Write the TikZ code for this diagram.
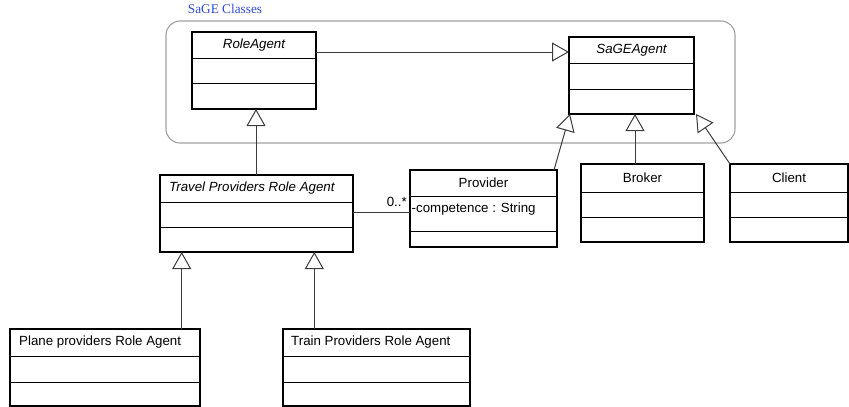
\documentclass[tikz,border=0pt]{standalone}
\usepackage{fontspec}
\setmainfont{Liberation Sans}
\newfontfamily\titleserif{Liberation Serif}
\usetikzlibrary{arrows.meta,calc}
\definecolor{lnk}{RGB}{60,60,60}
\definecolor{frm}{RGB}{160,160,160}
\definecolor{ttl}{RGB}{40,70,250}
\newcommand{\umlbox}[7]{%
  \node[cls, anchor=north west, minimum width={(#4-#2)*1pt}, minimum height={(#5-#3)*1pt}] (#1) at (#2,#3) {};
  \draw[div] (#2,#6) -- (#4,#6);
  \draw[div] (#2,#7) -- (#4,#7);}
\begin{document}
\begin{tikzpicture}[x=1pt,y=-1pt,
  cls/.style={draw=black, line width=1.2pt, inner sep=0pt, outer sep=0pt},
  div/.style={draw=black, line width=1pt},
  frame/.style={draw=frm, line width=1.1pt, rounded corners=14pt, inner sep=0pt, outer sep=0pt},
  lbl/.style={font=\fontsize{13.3}{15}\selectfont, inner sep=0pt},
  ilbl/.style={lbl, font=\fontsize{13.3}{15}\selectfont\itshape},
  gen/.style={draw=lnk, line width=1pt, -{Triangle[open, length=17pt, width=19pt]}},
  assoc/.style={draw=lnk, line width=1pt}]
\useasboundingbox (0,0) rectangle (849,407);
% container
\node[frame, anchor=north west, minimum width=569pt, minimum height=122pt] (frame) at (166,21) {};
\node[lbl, font=\titleserif\fontsize{13.3}{15}\selectfont, text=ttl] (title) at (225,9) {SaGE Classes};
% classes
\umlbox{ra}{192}{32}{316}{109}{58}{83}
\umlbox{sage}{569}{37}{694}{114}{63}{89}
\umlbox{trav}{160}{175}{353}{252}{202}{227}
\umlbox{prov}{410}{170}{557}{247}{196}{231}
\umlbox{brok}{581}{164}{704}{242}{192}{217}
\umlbox{cli}{730}{164}{848}{242}{192}{217}
\umlbox{plane}{10}{329}{200}{406}{356}{382}
\umlbox{train}{283}{329}{470}{406}{356}{382}
% texts
\node[ilbl] (raT) at (254,45) {RoleAgent};
\node[ilbl] (sageT) at (631.5,50) {SaGEAgent};
\node[ilbl, anchor=west] (travT) at (169,188.5) {Travel Providers Role Agent};
\node[lbl] (provT) at (483.5,183) {Provider};
\node[lbl, anchor=west] (provA) at (411.5,209.5) {-competence : String};
\node[lbl] (brokT) at (642.5,178) {Broker};
\node[lbl] (cliT) at (789,178) {Client};
\node[lbl, anchor=west] (planeT) at (19,342.5) {Plane providers Role Agent};
\node[lbl, anchor=west] (trainT) at (291,342.5) {Train Providers Role Agent};
\node[lbl, anchor=base east] (mult) at (407,206) {0..*};
% connectors
\coordinate (raOut) at ($(ra.north east)+(0,20)$);
\draw[gen] (raOut) -- (raOut -| sage.west);
\coordinate (travUp) at ($(trav.north west)+(96,0)$);
\draw[gen] (travUp) -- (travUp |- ra.south);
\coordinate (planeUp) at ($(plane.north west)+(171.7,0)$);
\draw[gen] (planeUp) -- (planeUp |- trav.south);
\coordinate (trainUp) at ($(train.north west)+(31.3,0)$);
\draw[gen] (trainUp) -- (trainUp |- trav.south);
\coordinate (provUp) at ($(prov.north east)+(-3,0)$);
\coordinate (sageSW) at ($(sage.south west)+(1,0)$);
\draw[gen] (provUp) -- (sageSW);
\coordinate (brokUp) at ($(brok.north west)+(54,0)$);
\draw[gen] (brokUp) -- (brokUp |- sage.south);
\coordinate (sageSE) at ($(sage.south east)+(2,0)$);
\draw[gen] (cli.north west) -- (sageSE);
\coordinate (asc) at (380,212);
\draw[assoc] (trav.east |- asc) -- (prov.west |- asc);
\end{tikzpicture}
\end{document}
